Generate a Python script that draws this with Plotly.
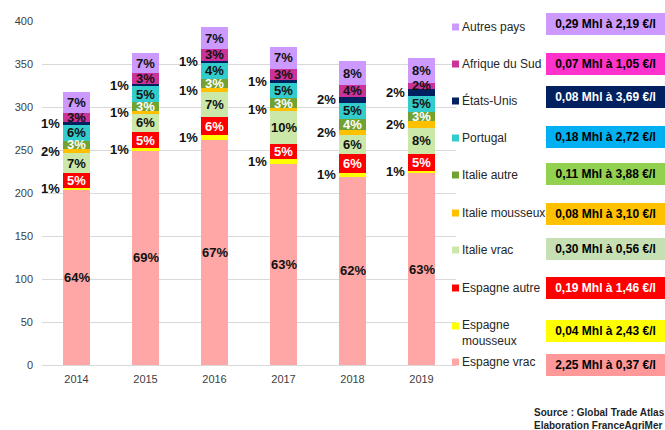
import plotly.graph_objects as go

# données
years = ["2014", "2015", "2016", "2017", "2018", "2019"]

series_names = ["Espagne vrac", "Espagne<br>mousseux", "Espagne autre", "Italie vrac",
                "Italie mousseux", "Italie autre", "Portugal", "États-Unis",
                "Afrique du Sud", "Autres pays"]

espagne_vrac = [204, 249, 262, 234, 219, 223]
espagne_mousseux = [2, 3, 5, 5, 4, 3]
espagne_autre = [17, 19, 21, 18, 22, 19]
italie_vrac = [23, 22, 29, 38, 23, 31]
italie_mousseux = [5, 2, 5, 4, 5, 8]
italie_autre = [10, 11, 11, 11, 13, 10]
portugal = [19, 18, 19, 18, 19, 19]
etats_unis = [2, 3, 2, 3, 7, 8]
afrique_sud = [11, 12, 13, 13, 14, 7]
autres_pays = [24, 24, 26, 26, 27, 29]

espagne_vrac_pct = ["64%", "69%", "67%", "63%", "62%", "63%"]
espagne_mousseux_pct = ["1%", "1%", "1%", "1%", "1%", "1%"]
espagne_autre_pct = ["5%", "5%", "6%", "5%", "6%", "5%"]
italie_vrac_pct = ["7%", "6%", "7%", "10%", "6%", "8%"]
italie_mousseux_pct = ["2%", "1%", "1%", "1%", "2%", "2%"]
italie_autre_pct = ["3%", "3%", "3%", "3%", "4%", "3%"]
portugal_pct = ["6%", "5%", "4%", "5%", "5%", "5%"]
etats_unis_pct = ["1%", "1%", "1%", "1%", "2%", "2%"]
afrique_sud_pct = ["3%", "3%", "3%", "3%", "4%", "2%"]
autres_pays_pct = ["7%", "7%", "7%", "7%", "8%", "8%"]

volumes_prix = ["2,25 Mhl à 0,37 €/l", "0,04 Mhl à 2,43 €/l", "0,19 Mhl à 1,46 €/l",
                "0,30 Mhl à 0,56 €/l", "0,08 Mhl à 3,10 €/l", "0,11 Mhl à 3,88 €/l",
                "0,18 Mhl à 2,72 €/l", "0,08 Mhl à 3,69 €/l", "0,07 Mhl à 1,05 €/l",
                "0,29 Mhl à 2,19 €/l"]

values = [espagne_vrac, espagne_mousseux, espagne_autre, italie_vrac, italie_mousseux,
          italie_autre, portugal, etats_unis, afrique_sud, autres_pays]
pcts = [espagne_vrac_pct, espagne_mousseux_pct, espagne_autre_pct, italie_vrac_pct,
        italie_mousseux_pct, italie_autre_pct, portugal_pct, etats_unis_pct,
        afrique_sud_pct, autres_pays_pct]

bar_colors = ["#FFA6A6", "#FFFF00", "#FF0000", "#CCE8A9", "#FFC000",
              "#72A232", "#33CCCC", "#002060", "#CC3399", "#CC99FF"]
box_colors = ["#FF9999", "#FFFF00", "#FF0000", "#C6E0B4", "#FFC000",
              "#92D050", "#00B0F0", "#002060", "#FF33CC", "#CC99FF"]
box_text_colors = ["black", "black", "white", "black", "black",
                   "black", "black", "white", "black", "black"]
inside_text_colors = ["#111111", "#111111", "white", "#111111", "#111111",
                      "white", "#111111", "#111111", "#111111", "#111111"]
outside_label = [False, True, False, False, True, False, False, True, False, False]

FONT = "Liberation Sans, Arial, sans-serif"

# pixel -> paper (zone de tracé 42..456 x 21..365)
def px_x(px):
    return (px - 42) / 414

def px_y(py):
    return (365 - py) / 344

fig = go.Figure()
for i, name in enumerate(series_names):
    fig.add_trace(go.Bar(
        x=years, y=values[i], name=name.replace("<br>", " "),
        marker=dict(color=bar_colors[i], line=dict(width=0)),
        width=0.4, showlegend=False,
    ))

annotations = []
# pourcentages : dans la barre, ou à gauche pour les petits segments
for j in range(len(years)):
    base = 0
    for i in range(len(values)):
        v = values[i][j]
        if outside_label[i]:
            annotations.append(dict(
                x=j, y=base + v / 2, xref="x", yref="y", text=pcts[i][j],
                showarrow=False, xanchor="right", yanchor="middle", xshift=-15,
                font=dict(family=FONT, size=13, color="#111111", weight="bold")))
        else:
            annotations.append(dict(
                x=j, y=base + v / 2, xref="x", yref="y", text=pcts[i][j],
                showarrow=False, xanchor="center", yanchor="middle",
                font=dict(family=FONT, size=13, color=inside_text_colors[i], weight="bold")))
        base += v

# légende personnalisée + encadrés volume/prix
legend_rows = [362, 326, 288, 250, 213, 175, 138, 101, 64, 27]
box_rows = [365, 331, 288, 249, 213.5, 174, 136.5, 97, 64, 24]
shapes = []
for i, name in enumerate(series_names):
    r = legend_rows[i]
    shapes.append(dict(type="rect", xref="paper", yref="paper",
                       x0=px_x(452), x1=px_x(459), y0=px_y(r + 3.5), y1=px_y(r - 3.5),
                       fillcolor=bar_colors[i], line=dict(width=0)))
    ty = r + 6.5 if "<br>" in name else r
    annotations.append(dict(
        x=px_x(460), y=px_y(ty), xref="paper", yref="paper", text=name,
        showarrow=False, xanchor="left", yanchor="middle", align="left",
        font=dict(family=FONT, size=12, color="#262626")))
    annotations.append(dict(
        x=px_x(546), y=px_y(box_rows[i]), xref="paper", yref="paper",
        text=volumes_prix[i], showarrow=False, xanchor="left", yanchor="middle",
        width=119, height=22, borderpad=0, borderwidth=0, bgcolor=box_colors[i],
        align="center", valign="middle",
        font=dict(family=FONT, size=12, color=box_text_colors[i], weight="bold")))

annotations.append(dict(
    x=px_x(532), y=px_y(405), xref="paper", yref="paper",
    text="Source : Global Trade Atlas<br>Elaboration FranceAgriMer",
    showarrow=False, xanchor="left", yanchor="top", align="left",
    font=dict(family=FONT, size=10, color="#1F1F1F", weight="bold")))

fig.update_layout(
    width=665, height=430,
    margin=dict(l=42, r=209, t=21, b=65, autoexpand=False),
    barmode="stack",
    plot_bgcolor="white", paper_bgcolor="white",
    font=dict(family=FONT, size=11, color="#404040"),
    annotations=annotations,
    shapes=shapes,
    xaxis=dict(type="category", range=[-0.5, 5.5], showgrid=False, showline=False,
               ticks="", ticklabelstandoff=6, automargin=False,
               tickfont=dict(size=11, color="#404040")),
    yaxis=dict(range=[0, 400], dtick=50, showgrid=True, gridcolor="#D9D9D9",
               gridwidth=1, zeroline=True, zerolinecolor="#D9D9D9", zerolinewidth=1,
               showline=False, ticks="", ticklabelstandoff=8, automargin=False,
               tickfont=dict(size=11, color="#404040")),
)

fig.write_html("out.html", config={"displayModeBar": False},
               post_script="document.body.style.margin='0';")
